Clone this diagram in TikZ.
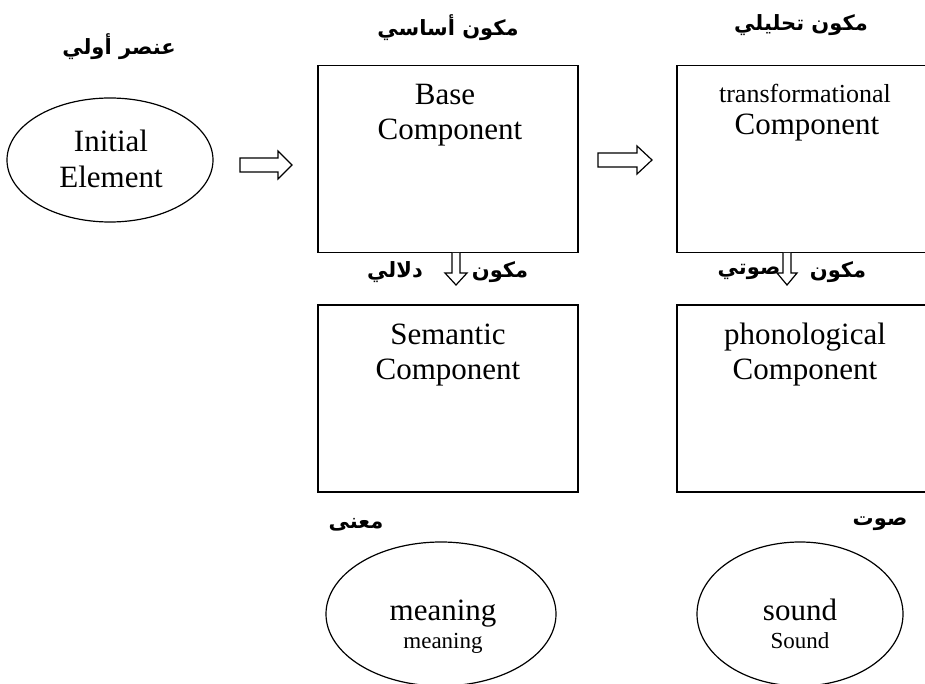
\documentclass[tikz,border=0pt]{standalone}
\usepackage{fontspec}
\setmainfont{Liberation Serif}
\newfontfamily\arabicfont[Script=Arabic]{DejaVu Sans}
\TeXXeTstate=1
\usetikzlibrary{positioning, shapes.geometric}

\tikzset{
  comp/.style={draw, line width=1.5pt, inner sep=0pt},
  ell/.style={draw, ellipse, line width=1.2pt, inner sep=0pt},
  lbl/.style={font=\arabicfont\bfseries\fontsize{21}{24}\selectfont, inner sep=0pt},
  big/.style={font=\fontsize{31}{36}\selectfont, inner sep=0pt, anchor=base},
  small/.style={font=\fontsize{26}{30}\selectfont, inner sep=0pt, anchor=base},
  tiny/.style={font=\fontsize{23}{27}\selectfont, inner sep=0pt, anchor=base},
  hollow/.style={draw, line width=1.2pt, fill=white},
}

\begin{document}
\begin{tikzpicture}[x=1pt, y=-1pt]
\useasboundingbox (0,0) rectangle (925,684);

% first element
\node[ell, minimum width=206pt, minimum height=124pt] (init) at (110,160) {};
\node[big] (initA) at (111,152) {Initial};
\node[big] (initB) at (111,188) {Element};
\node[lbl] (initL) at (119,47) {\beginR عنصر أولي\endR};

% the four components
\node[comp, minimum width=260pt, minimum height=187pt] (base) at (448,159) {};
\node[comp, minimum width=260pt, minimum height=187pt] (trans) at (807,159) {};
\node[comp, minimum width=260pt, minimum height=187pt] (sem) at (448,398.5) {};
\node[comp, minimum width=260pt, minimum height=187pt] (phon) at (807,398.5) {};

\node[big] (baseA) at (445,105) {Base};
\node[big] (baseB) at (450,140) {Component};
\node[small] (transA) at (805,103) {transformational};
\node[big] (transB) at (807,135) {Component};
\node[big] (semA) at (448,344) {Semantic};
\node[big] (semB) at (448,379) {Component};
\node[big] (phonA) at (805,344) {phonological};
\node[big] (phonB) at (805,379) {Component};

\node[lbl] (baseL) at (448,28) {\beginR مكون أساسي\endR};
\node[lbl] (transL) at (801,25) {\beginR مكون تحليلي\endR};
\node[lbl] (semL) at (500,272) {\beginR مكون\endR};
\node[lbl] (semM) at (395,272) {\beginR دلالي\endR};
\node[lbl] (phonL) at (838,272) {\beginR مكون\endR};
\node[lbl] (phonM) at (749,272) {\beginR صوتي\endR};

% results
\node[ell, minimum width=230pt, minimum height=144pt] (mean) at (441,614) {};
\node[big] (meanA) at (443,620) {meaning};
\node[tiny] (meanB) at (443,648) {meaning};
\node[lbl] (meanL) at (356,525) {\beginR معنى\endR};

\node[ell, minimum width=206pt, minimum height=144pt] (snd) at (800,614) {};
\node[big] (sndA) at (800,620) {sound};
\node[tiny] (sndB) at (800,648) {Sound};
\node[lbl] (sndL) at (880,524) {\beginR صوت\endR};

% block arrows
\draw[hollow] (240,158) -- (278,158) -- (278,151) -- (292,165) -- (278,179) -- (278,172) -- (240,172) -- cycle;
\draw[hollow] (598,153) -- (637,153) -- (637,146) -- (652,160) -- (637,174) -- (637,167) -- (598,167) -- cycle;
\draw[hollow] (452,253) -- (452,273) -- (445,273) -- (456,285) -- (467,273) -- (460,273) -- (460,253);
\draw[hollow] (783,253) -- (783,273) -- (777,273) -- (787,285) -- (797,273) -- (791,273) -- (791,253);

\end{tikzpicture}
\end{document}
